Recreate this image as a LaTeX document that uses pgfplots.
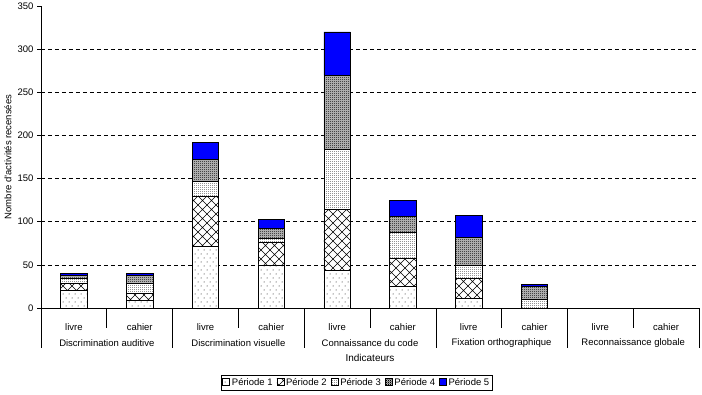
\documentclass[border=0pt]{standalone}
\usepackage{fontspec}
\setmainfont{Liberation Sans}
\usepackage{pgfplots}
\pgfplotsset{compat=1.18}
\usetikzlibrary{patterns}

\pgfdeclarepatternformonly{sparsedots}{\pgfqpoint{-1pt}{-1pt}}{\pgfqpoint{7pt}{9pt}}{\pgfqpoint{6pt}{8pt}}{%
  \pgfpathcircle{\pgfqpoint{0pt}{0pt}}{0.5pt}\pgfpathcircle{\pgfqpoint{3pt}{4pt}}{0.5pt}\pgfusepath{fill}}
\pgfdeclarepatternformonly{diagcross}{\pgfqpoint{-0.5pt}{-0.5pt}}{\pgfqpoint{9.5pt}{9.5pt}}{\pgfqpoint{9pt}{9pt}}{%
  \pgfsetlinewidth{0.5pt}%
  \pgfpathmoveto{\pgfqpoint{0pt}{0pt}}\pgfpathlineto{\pgfqpoint{9pt}{9pt}}%
  \pgfpathmoveto{\pgfqpoint{0pt}{9pt}}\pgfpathlineto{\pgfqpoint{9pt}{0pt}}\pgfusepath{stroke}}
\pgfdeclarepatternformonly{densedots}{\pgfqpoint{0pt}{0pt}}{\pgfqpoint{2pt}{2pt}}{\pgfqpoint{2pt}{2pt}}{%
  \pgfpathrectangle{\pgfqpoint{0pt}{0pt}}{\pgfqpoint{0.8pt}{0.8pt}}\pgfusepath{fill}}
\pgfdeclarepatternformonly{checker}{\pgfqpoint{0pt}{0pt}}{\pgfqpoint{2pt}{2pt}}{\pgfqpoint{2pt}{2pt}}{%
  \pgfpathrectangle{\pgfqpoint{0pt}{0pt}}{\pgfqpoint{1.1pt}{1.1pt}}%
  \pgfpathrectangle{\pgfqpoint{1pt}{1pt}}{\pgfqpoint{1.1pt}{1.1pt}}\pgfusepath{fill}}

\definecolor{pblue}{RGB}{0,0,255}

\begin{document}
\begin{tikzpicture}
\begin{axis}[
  name=ax,
  scale only axis,
  width=658pt, height=302pt,
  clip=false,
  ybar stacked,
  bar width=0.4,
  xmin=0.5, xmax=10.5,
  ymin=0, ymax=350,
  axis x line=bottom, axis y line=left,
  axis line style={-, black, line width=0.6pt},
  xtick={1,...,10},
  xticklabels={livre,cahier,livre,cahier,livre,cahier,livre,cahier,livre,cahier},
  xtick style={draw=none},
  xticklabel style={anchor=center, yshift=-15pt},
  ytick={0,50,...,300},
  extra y ticks={350},
  extra y tick style={grid=none},
  ymajorgrids,
  y grid style={black, dash pattern=on 4pt off 3pt, line width=0.6pt},
  tick align=outside,
  ytick style={black, line width=0.6pt},
  major tick length=4pt,
  tick label style={font=\fontsize{9.5}{11}\selectfont},
  /pgf/number format/assume math mode=true,
  xlabel={Indicateurs},
  xlabel style={font=\fontsize{10}{12}\selectfont, at={(axis description cs:0.5,-0.1656)}, anchor=center},
  ylabel={Nombre d'activités recensées},
  ylabel style={font=\fontsize{9.5}{11}\selectfont, at={(axis description cs:-0.0502,0.5)}, anchor=center},
  legend columns=5,
  legend style={at={(axis description cs:0.48,-0.222)}, anchor=north,
    draw=black, line width=0.6pt, inner sep=1pt,
    font=\fontsize{9.5}{11}\selectfont,
    /tikz/every even column/.append style={column sep=2pt}},
  legend image code/.code={\draw[#1, line width=0.5pt] (0pt,-3pt) rectangle (7pt,4pt);},
  every axis plot/.append style={draw=black, line width=0.6pt},
]
\addplot[fill=white, postaction={pattern=sparsedots}] coordinates {(1,20)(2,9)(3,71)(4,50)(5,44)(6,25)(7,11)(8,0)};
\addplot[fill=white, postaction={pattern=diagcross}] coordinates {(1,9)(2,8)(3,58)(4,26)(5,70)(6,33)(7,23)(8,0)};
\addplot[fill=white, postaction={pattern=densedots}] coordinates {(1,6)(2,12)(3,18)(4,5)(5,70)(6,30)(7,15)(8,10)};
\addplot[fill=gray!45, postaction={pattern=checker}] coordinates {(1,3)(2,9)(3,25)(4,11)(5,86)(6,18)(7,33)(8,15)};
\addplot[fill=pblue] coordinates {(1,2)(2,2)(3,20)(4,11)(5,50)(6,19)(7,25)(8,2)};
\legend{Période 1,Période 2,Période 3,Période 4,Période 5}

\draw[black, line width=0.6pt] (axis cs:0.5,0) -- ([yshift=-40pt]axis cs:0.5,0);
\draw[black, line width=0.6pt] (axis cs:2.5,0) -- ([yshift=-40pt]axis cs:2.5,0);
\draw[black, line width=0.6pt] (axis cs:4.5,0) -- ([yshift=-40pt]axis cs:4.5,0);
\draw[black, line width=0.6pt] (axis cs:6.5,0) -- ([yshift=-40pt]axis cs:6.5,0);
\draw[black, line width=0.6pt] (axis cs:8.5,0) -- ([yshift=-40pt]axis cs:8.5,0);
\draw[black, line width=0.6pt] (axis cs:10.5,0) -- ([yshift=-40pt]axis cs:10.5,0);
\draw[black, line width=0.6pt] (axis cs:1.5,0) -- ([yshift=-20pt]axis cs:1.5,0);
\draw[black, line width=0.6pt] (axis cs:3.5,0) -- ([yshift=-20pt]axis cs:3.5,0);
\draw[black, line width=0.6pt] (axis cs:5.5,0) -- ([yshift=-20pt]axis cs:5.5,0);
\draw[black, line width=0.6pt] (axis cs:7.5,0) -- ([yshift=-20pt]axis cs:7.5,0);
\draw[black, line width=0.6pt] (axis cs:9.5,0) -- ([yshift=-20pt]axis cs:9.5,0);

\node[font=\fontsize{9.5}{11}\selectfont, anchor=center, yshift=-35pt] at (axis cs:1.5,0) {Discrimination auditive};
\node[font=\fontsize{9.5}{11}\selectfont, anchor=center, yshift=-35pt] at (axis cs:3.5,0) {Discrimination visuelle};
\node[font=\fontsize{9.5}{11}\selectfont, anchor=center, yshift=-35pt] at (axis cs:5.5,0) {Connaissance du code};
\node[font=\fontsize{9.5}{11}\selectfont, anchor=center, yshift=-35pt] at (axis cs:7.5,0) {Fixation orthographique};
\node[font=\fontsize{9.5}{11}\selectfont, anchor=center, yshift=-35pt] at (axis cs:9.5,0) {Reconnaissance globale};
\end{axis}
\pgfresetboundingbox
\path ([xshift=-41pt,yshift=308pt]ax.south west) rectangle ([xshift=661pt,yshift=-86pt]ax.south west);
\end{tikzpicture}
\end{document}
